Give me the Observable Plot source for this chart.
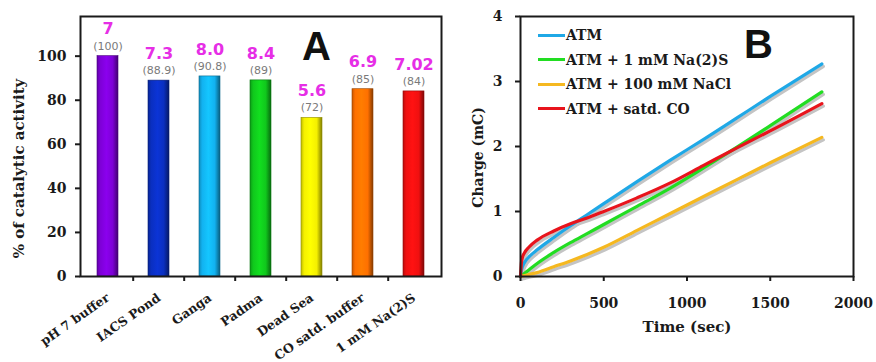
<!DOCTYPE html>
<html><head><meta charset="utf-8">
<script src="https://cdn.jsdelivr.net/npm/d3@7"></script>
<script src="https://cdn.jsdelivr.net/npm/@observablehq/plot@0.6"></script>
<style>
body{margin:0;background:#fff;}
#wrap{position:relative;width:876px;height:362px;display:flex;}
#legend{position:absolute;left:538px;top:23px;font:bold 14px "DejaVu Serif";color:#1a1a1a;}
.row{display:flex;align-items:center;height:24.5px;white-space:nowrap;}
.sw{width:27px;height:3px;margin-right:1px;}
</style></head><body><div id="wrap"></div>
<script>
// Panel A data
const sites = ["pH 7 buffer","IACS Pond","Ganga","Padma","Dead Sea","CO satd. buffer","1 mM Na(2)S"];
const activity = [100, 88.9, 90.8, 89, 72, 85, 84];
const pHLabels = ["7","7.3","8.0","8.4","5.6","6.9","7.02"];
const barColors = ["#7d00d6","#0a2fc0","#12b2f0","#10c81c","#f5f000","#ff7000","#f01010"];
const yTicksA = [0,20,40,60,80,100];

// Panel B data
const time = [0,5,10,25,50,100,200,300,400,500,700,900,1100,1300,1500,1810];
const seriesNames = ["ATM","ATM + 1 mM Na(2)S","ATM + 100 mM NaCl","ATM + satd. CO"];
const seriesColors = ["#1fa8e6","#22dd22","#f5b820","#e8141c"];
const atm  = [0,0.09,0.14,0.22,0.30,0.41,0.60,0.78,0.95,1.12,1.46,1.79,2.11,2.44,2.77,3.27];
const na2s = [0,0.01,0.02,0.05,0.10,0.20,0.37,0.52,0.66,0.80,1.08,1.36,1.67,1.99,2.32,2.84];
const nacl = [0,0.003,0.006,0.015,0.03,0.06,0.15,0.24,0.34,0.45,0.71,0.97,1.23,1.49,1.75,2.14];
const co   = [0,0.20,0.28,0.37,0.45,0.56,0.70,0.81,0.90,1.00,1.21,1.44,1.71,1.98,2.24,2.66];
const xTicksB = [0,500,1000,1500,2000];
const yTicksB = [0,1,2,3,4];

const seriesValues = [atm, na2s, nacl, co];
const barData = sites.map((s,i)=>({site:s, value:activity[i], pH:pHLabels[i], idx:i}));
const lineData = seriesNames.flatMap((name,k)=> time.map((t,j)=>({series:name, t, q:seriesValues[k][j], color:seriesColors[k]})));

const defs = () => {
  const d = d3.create("svg:defs");
  barColors.forEach((c,i)=>{
    const g = d.append("linearGradient").attr("id","bg"+i).attr("x1",0).attr("x2",1).attr("y1",0).attr("y2",0);
    const col = d3.color(c);
    [[0,col.darker(0.7)],[0.15,col],[0.45,col.brighter(0.3)],[0.75,col],[1,col.darker(1.8)]]
      .forEach(([o,cc])=> g.append("stop").attr("offset",o).attr("stop-color",cc.formatHex()));
  });
  return d.node();
};

const ink = "#1a1a1a";
const plotA = Plot.plot({
  width: 448, height: 362, marginLeft: 80, marginRight: 7, marginTop: 16, marginBottom: 86,
  style: {fontFamily:"DejaVu Serif", fontWeight:"bold", fontSize:"12px", color:ink, background:"transparent", overflow:"visible"},
  x: {domain: sites, padding: 0, axis: null},
  y: {domain: [0,118], axis: null},
  color: {type:"identity"},
  marks: [
    defs,
    Plot.barY(barData, {x:"site", y:"value", fill: d=>`url(#bg${d.idx})`, stroke: d=>d3.color(barColors[d.idx]).darker(1.5).formatHex(), strokeWidth:0.6, insetLeft: 15, insetRight: 15}),
    Plot.text(barData, {x:"site", y:"value", text: d=>`(${d.value})`, dy:-10, fontFamily:"DejaVu Sans", fontWeight:"normal", fontSize: 11, fill:"#7a7a7a"}),
    Plot.text(barData, {x:"site", y:"value", text:"pH", dy:-27, fontFamily:"DejaVu Sans", fontWeight:"bold", fontSize:16, fill:"#e62ee6"}),
    Plot.axisY({ticks:yTicksA, tickSize:5, tickPadding:9, label:null, fontSize:14, strokeWidth:2}),
    Plot.axisX({ticks: sites.slice(1), tickSize:5, tickFormat: () => "", label:null, dx:-25.8, strokeWidth:2}),
    Plot.axisX({tickSize:0, tickRotate:-35, tickPadding:20, label:null, fontSize:12.5}),
    Plot.frame({stroke:ink, strokeWidth:2}),
    Plot.text(["% of catalytic activity"], {frameAnchor:"left", textAnchor:"middle", lineAnchor:"middle", rotate:-90, dx:-61, dy:22, fontSize:15}),
    Plot.text(["A"], {frameAnchor:"top-left", textAnchor:"middle", lineAnchor:"middle", dx:236, dy:31, fontFamily:"Liberation Sans", fontWeight:"bold", fontSize:40, fill:"#111"})
  ]
});

const plotB = Plot.plot({
  width: 428, height: 362, marginLeft: 72, marginRight: 23, marginTop: 16, marginBottom: 86,
  style: {fontFamily:"DejaVu Serif", fontWeight:"bold", fontSize:"14px", color:ink, background:"transparent", overflow:"visible"},
  x: {domain:[0,2000], axis:null},
  y: {domain:[0,4], axis:null},
  color: {type:"identity"},
  marks: [
    Plot.line(lineData, {x:"t", y:"q", z:"series", stroke:"#c4c4c4", strokeWidth:3.2, dx:1.5, dy:2.5, curve:"monotone-x"}),
    Plot.line(lineData, {x:"t", y:"q", z:"series", stroke:"color", strokeWidth:3.2, curve:"monotone-x"}),
    Plot.axisX({ticks:xTicksB, tickFormat: d=>String(d), tickSize:5, tickPadding:17, label:null, fontSize:14, strokeWidth:2}),
    Plot.axisY({ticks:yTicksB, tickFormat: d=>String(d), tickSize:5, tickPadding:13, label:null, fontSize:14, strokeWidth:2}),
    Plot.frame({stroke:ink, strokeWidth:2}),
    Plot.text(["Time (sec)"], {frameAnchor:"bottom", lineAnchor:"middle", dy:51, fontSize:15}),
    Plot.text(["Charge (mC)"], {frameAnchor:"left", textAnchor:"middle", lineAnchor:"middle", rotate:-90, dx:-42, dy:11, fontSize:14}),
    Plot.text(["B"], {frameAnchor:"top-left", textAnchor:"middle", lineAnchor:"middle", dx:238, dy:29, fontFamily:"Liberation Sans", fontWeight:"bold", fontSize:40, fill:"#111"})
  ]
});

const wrap = document.getElementById("wrap");
wrap.appendChild(plotA);
wrap.appendChild(plotB);
const legend = d3.select(wrap).append("div").attr("id","legend");
seriesNames.forEach((n,i)=>{
  const r = legend.append("div").attr("class","row");
  r.append("div").attr("class","sw").style("background", seriesColors[i]);
  r.append("span").text(n);
});
</script></body></html>
